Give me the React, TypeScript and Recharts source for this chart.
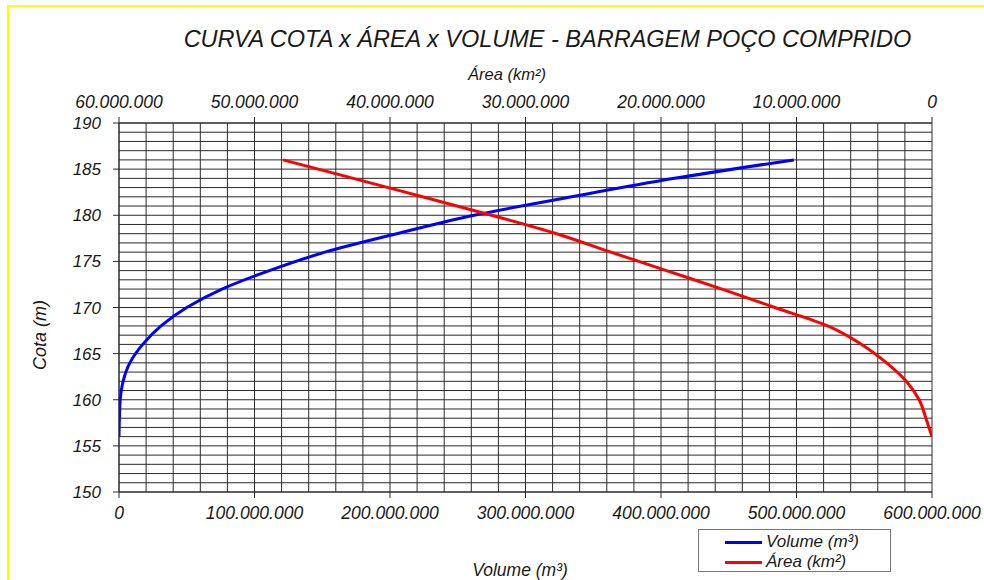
import { LineChart, Line, XAxis, YAxis, ReferenceLine } from 'recharts'

// cota (m) x volume acumulado (m³) x área do espelho d'água
const cotas = [156, 158, 160, 162, 164, 166, 168, 170, 172, 174, 176, 178, 180, 182, 184, 186]
const volumes = [
  0, 0.3e6, 0.9e6, 3.0e6, 8.0e6, 17.5e6, 31e6, 50e6, 76e6, 111e6, 152e6, 205e6, 262e6, 334e6,
  410e6, 498e6,
]
const areas = [
  0, 0.45e6, 0.95e6, 1.9e6, 3.35e6, 5.2e6, 7.7e6, 11.6e6, 15.5e6, 19.6e6, 23.7e6, 27.7e6, 32.5e6,
  37.6e6, 42.7e6, 47.9e6,
]

const volumeTicks = [0, 100e6, 200e6, 300e6, 400e6, 500e6, 600e6]
const areaTicks = [0, 10e6, 20e6, 30e6, 40e6, 50e6, 60e6]
const cotaTicks = [150, 155, 160, 165, 170, 175, 180, 185, 190]

// malha: 20.000.000 m³ na horizontal, 1 m na vertical
const volumeGrid = Array.from({ length: 31 }, (_, i) => i * 20e6)
const cotaGrid = Array.from({ length: 41 }, (_, i) => 150 + i)

const data = cotas.map((cota, i) => ({ cota, volume: volumes[i], area: areas[i] }))

const FONT = '"Liberation Sans", Arial, sans-serif'
const INK = '#1a1a1a'
const GRID = '#2a2a2a'

const fmt = (v: number) => String(Math.round(v)).replace(/\B(?=(\d{3})+(?!\d))/g, '.')

const CotaTick = ({ x, y, payload }: any) => (
  <text x={x} y={y} dy={6} textAnchor="end" fontFamily={FONT} fontStyle="italic" fontSize={17} fill={INK}>
    {payload.value}
  </text>
)

const VolumeTick = ({ x, y, payload }: any) => (
  <text x={x} y={y} dy={19} textAnchor="middle" fontFamily={FONT} fontStyle="italic" fontSize={17.5} fill={INK}>
    {fmt(payload.value)}
  </text>
)

const AreaTick = ({ x, y, payload }: any) => (
  <text x={x} y={y} dy={-7} textAnchor="middle" fontFamily={FONT} fontStyle="italic" fontSize={17.5} fill={INK}>
    {fmt(payload.value)}
  </text>
)

const textStyle = {
  position: 'absolute' as const,
  fontFamily: FONT,
  fontStyle: 'italic',
  color: INK,
  lineHeight: 1,
  whiteSpace: 'nowrap' as const,
}

export default function App() {
  return (
    <div style={{ position: 'fixed', left: 0, top: 0, width: 984, height: 580, overflow: 'hidden', background: '#fff' }}>
      <div
        style={{
          position: 'absolute',
          left: 7,
          top: 5,
          width: 1000,
          height: 600,
          borderTop: '2px solid #ffff00',
          borderLeft: '2px solid #ffff00',
        }}
      />
      <div style={{ position: 'absolute', left: 0, top: 0 }}>
        <LineChart
          width={984}
          height={580}
          data={data}
          layout="vertical"
          margin={{ top: 93, right: 52, bottom: 58, left: 59 }}
        >
          <XAxis
            xAxisId="vol"
            type="number"
            orientation="bottom"
            domain={[0, 600e6]}
            ticks={volumeTicks}
            height={30}
            tickSize={6}
            tick={<VolumeTick />}
            axisLine={{ stroke: GRID }}
            tickLine={{ stroke: GRID }}
            allowDataOverflow
          />
          <XAxis
            xAxisId="area"
            type="number"
            orientation="top"
            domain={[0, 60e6]}
            reversed
            ticks={areaTicks}
            height={30}
            tickSize={6}
            tick={<AreaTick />}
            axisLine={{ stroke: GRID }}
            tickLine={{ stroke: GRID }}
            allowDataOverflow
          />
          <YAxis
            dataKey="cota"
            type="number"
            domain={[150, 190]}
            reversed
            ticks={cotaTicks}
            width={60}
            tickSize={6}
            tickMargin={12}
            tick={<CotaTick />}
            axisLine={{ stroke: GRID }}
            tickLine={{ stroke: GRID }}
            allowDataOverflow
          />
          {volumeGrid.map((v) => (
            <ReferenceLine key={`v${v}`} xAxisId="vol" x={v} stroke={GRID} strokeWidth={1} />
          ))}
          {cotaGrid.map((c) => (
            <ReferenceLine key={`c${c}`} xAxisId="vol" y={c} stroke={GRID} strokeWidth={1} />
          ))}
          <Line
            xAxisId="vol"
            dataKey="volume"
            type="monotone"
            stroke="#0000ff"
            strokeWidth={3}
            dot={false}
            isAnimationActive={false}
          />
          <Line
            xAxisId="area"
            dataKey="area"
            type="monotone"
            stroke="#ff0000"
            strokeWidth={3}
            dot={false}
            isAnimationActive={false}
          />
        </LineChart>
      </div>

      <div style={{ ...textStyle, left: 0, width: 1095, top: 28, textAlign: 'center', fontSize: 23.5 }}>
        CURVA COTA x ÁREA x VOLUME - BARRAGEM POÇO COMPRIDO
      </div>
      <div style={{ ...textStyle, left: 0, width: 1014, top: 66, textAlign: 'center', fontSize: 16.5 }}>
        Área (km²)
      </div>
      <div style={{ ...textStyle, left: 0, width: 1040, top: 562, textAlign: 'center', fontSize: 17.5 }}>
        Volume (m³)
      </div>
      <div
        style={{
          ...textStyle,
          left: 40,
          top: 335,
          fontSize: 18,
          transform: 'translate(-50%, -50%) rotate(-90deg)',
        }}
      >
        Cota (m)
      </div>

      <div
        style={{
          position: 'absolute',
          left: 698,
          top: 529,
          width: 191,
          height: 41,
          border: '1px solid #777',
          background: '#fff',
        }}
      >
        {[
          { name: 'Volume (m³)', color: '#0000ff', top: 3 },
          { name: 'Área (km²)', color: '#ff0000', top: 23 },
        ].map((item) => (
          <div key={item.name} style={{ position: 'absolute', left: 26, top: item.top, height: 18 }}>
            <div style={{ position: 'absolute', left: 0, top: 8, width: 37, height: 3, background: item.color }} />
            <div style={{ ...textStyle, left: 41, top: 0, fontSize: 17 }}>{item.name}</div>
          </div>
        ))}
      </div>
    </div>
  )
}
